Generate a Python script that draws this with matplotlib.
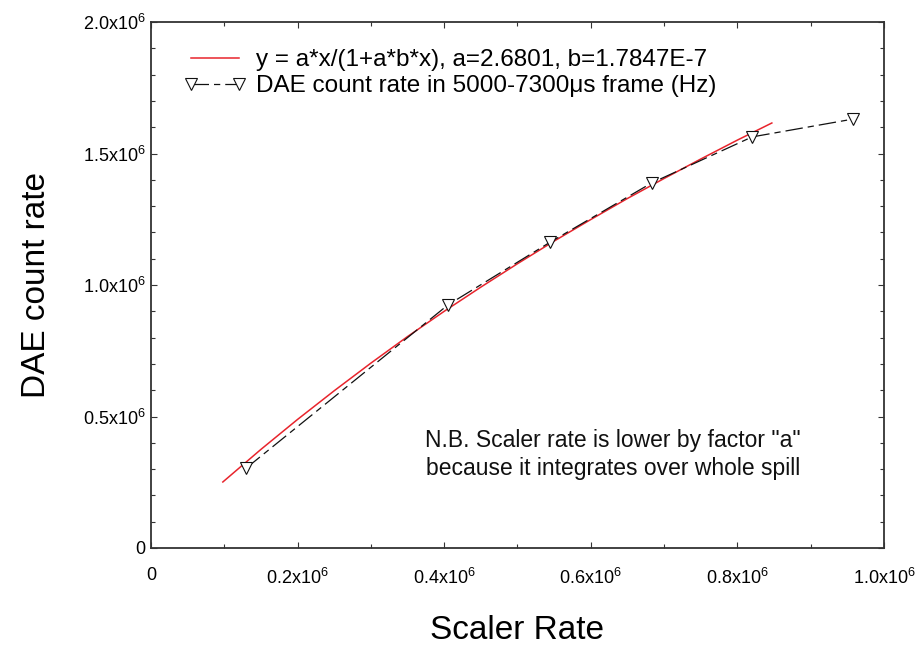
import matplotlib
matplotlib.use("Agg")
import matplotlib.pyplot as plt
from matplotlib.ticker import MultipleLocator, FixedLocator, FixedFormatter

plt.rcParams['font.family'] = ['Liberation Sans', 'DejaVu Sans']
plt.rcParams['mathtext.fontset'] = 'custom'
plt.rcParams['mathtext.rm'] = 'Liberation Sans'
plt.rcParams['mathtext.it'] = 'Liberation Sans'

# Fit curve (x, y in units of 1e6)
fit_x = [0.098, 0.15, 0.2, 0.25, 0.3, 0.35, 0.4, 0.45, 0.5, 0.55, 0.6, 0.65, 0.7, 0.75, 0.8, 0.847]
fit_y = [0.251, 0.375, 0.489, 0.598, 0.703, 0.804, 0.900, 0.992, 1.081, 1.167, 1.249, 1.329, 1.405, 1.479, 1.551, 1.616]

# Measured DAE count rate points (units of 1e6)
dae_x = [0.130, 0.405, 0.544, 0.683, 0.820, 0.958]
dae_y = [0.304, 0.924, 1.162, 1.388, 1.563, 1.631]

fit_label = "y = a*x/(1+a*b*x), a=2.6801, b=1.7847E-7"
dae_label = "DAE count rate in 5000-7300\u03bcs frame (Hz)"
note_lines = ['N.B. Scaler rate is lower by factor "a"',
              'because it integrates over whole spill']

xticks = [0, 0.2e6, 0.4e6, 0.6e6, 0.8e6, 1.0e6]
xticklabels = ['0', r'0.2x10$^{6}$', r'0.4x10$^{6}$', r'0.6x10$^{6}$', r'0.8x10$^{6}$', r'1.0x10$^{6}$']
yticks = [0, 0.5e6, 1.0e6, 1.5e6, 2.0e6]
yticklabels = ['0', r'0.5x10$^{6}$', r'1.0x10$^{6}$', r'1.5x10$^{6}$', r'2.0x10$^{6}$']

fig = plt.figure(figsize=(9.2, 6.52), dpi=100)
ax = fig.add_axes([151/920, 1-548/652, (884-151)/920, (548-22)/652])

scale = 1e6
ax.plot([v*scale for v in fit_x], [v*scale for v in fit_y], color='#e8242c', lw=1.1,
        label=fit_label, zorder=3)
ax.plot([v*scale for v in dae_x], [v*scale for v in dae_y], color='#111111', lw=0.9,
        dashes=(14, 4, 5, 4), marker='v', markersize=8, mfc='white', mec='#111111',
        mew=0.8, label=dae_label, zorder=4)

ax.set_xlim(0, 1.0e6)
ax.set_ylim(0, 2.0e6)
ax.xaxis.set_major_locator(FixedLocator(xticks))
ax.xaxis.set_major_formatter(FixedFormatter(xticklabels))
ax.yaxis.set_major_locator(FixedLocator(yticks))
ax.yaxis.set_major_formatter(FixedFormatter(yticklabels))
ax.xaxis.set_minor_locator(MultipleLocator(0.1e6))
ax.yaxis.set_minor_locator(MultipleLocator(0.1e6))
ax.tick_params(which='both', direction='in', top=True, right=True, width=0.8, color='#333333')
ax.tick_params(which='major', length=4, labelsize=13)
ax.tick_params(which='minor', length=3)
ax.tick_params(axis='x', which='major', pad=14)
ax.tick_params(axis='y', which='major', pad=4)
for s in ax.spines.values():
    s.set_linewidth(1.3)
    s.set_color('#333333')

ax.set_xlabel('Scaler Rate', fontsize=24, labelpad=20)
ax.set_ylabel('DAE count rate', fontsize=24, labelpad=22)

leg = ax.legend(loc='upper left', bbox_to_anchor=(0.044, 0.948), frameon=False,
                fontsize=17.5, handlelength=2.6, handletextpad=0.4, labelspacing=0.15,
                borderaxespad=0, borderpad=0, numpoints=2)

ax.text(0.63, 0.178, "\n".join(note_lines), transform=ax.transAxes, fontsize=16.5,
        ha='center', va='center', linespacing=1.25, color='#111111')

fig.savefig('out.png', dpi=100)
